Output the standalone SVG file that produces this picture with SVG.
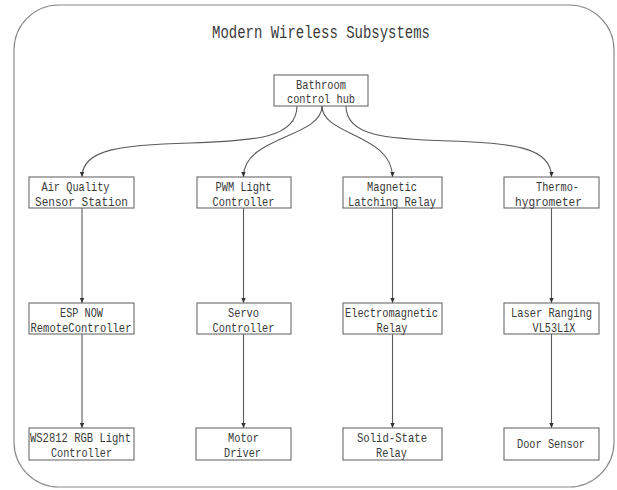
<svg xmlns="http://www.w3.org/2000/svg" width="617" height="490" viewBox="0 0 617 490">
  <style>
    .frame { fill: #ffffff; stroke: #8a8a8a; stroke-width: 1.2; }
    .box { fill: #ffffff; stroke: #6a6a6a; stroke-width: 1.1; }
    .lbl { font-family: "Liberation Mono", "DejaVu Sans Mono", monospace; font-size: 13px; fill: #3a3a3a; text-anchor: middle; }
    .title { font-family: "Liberation Mono", "DejaVu Sans Mono", monospace; font-size: 18px; fill: #3a3a3a; text-anchor: middle; }
    .edge { fill: none; stroke: #5a5a5a; stroke-width: 1.1; marker-end: url(#arrow); }
  </style>
  <defs>
    <marker id="arrow" markerUnits="userSpaceOnUse" markerWidth="6" markerHeight="5" refX="5" refY="2.2" orient="auto">
      <path d="M0,0 L5,2.2 L0,4.4 z" fill="#333333"/>
    </marker>
  </defs>

  <rect class="frame" x="14" y="5" width="600" height="482" rx="45" ry="45"/>
  <text class="title" x="321" y="38" textLength="218" lengthAdjust="spacingAndGlyphs">Modern Wireless Subsystems</text>

  <g id="connectors">
    <path class="edge" d="M297,106 C297,138 255,141 190,143 C125,145 82,148 82,177"/>
    <path class="edge" d="M322,106 C322,138 243,136 243.5,177"/>
    <path class="edge" d="M322,106 C322,136 392.5,134 392.5,177"/>
    <path class="edge" d="M346,106 C346,136 385,139 450,141 C515,143 551.5,148 551.5,177"/>
    <path class="edge" d="M82,208 L82,303"/>
    <path class="edge" d="M243.5,208 L243.5,303"/>
    <path class="edge" d="M392.5,208 L392.5,303"/>
    <path class="edge" d="M551.5,208 L551.5,303"/>
    <path class="edge" d="M82,334 L82,428"/>
    <path class="edge" d="M243.5,334 L243.5,428"/>
    <path class="edge" d="M392.5,334 L392.5,428"/>
    <path class="edge" d="M551.5,334 L551.5,428"/>
  </g>

  <g id="hub">
    <rect class="box" x="274" y="75" width="94" height="31"/>
    <text class="lbl" x="321" y="88.5" textLength="50" lengthAdjust="spacingAndGlyphs">Bathroom</text>
    <text class="lbl" x="321" y="103" textLength="68" lengthAdjust="spacingAndGlyphs">control hub</text>
  </g>

  <g id="air-quality">
    <rect class="box" x="29" y="177" width="105" height="31"/>
    <text class="lbl" x="75.5" y="191" textLength="68" lengthAdjust="spacingAndGlyphs">Air Quality</text>
    <text class="lbl" x="81.5" y="206" textLength="93" lengthAdjust="spacingAndGlyphs">Sensor  Station</text>
  </g>
  <g id="pwm-light">
    <rect class="box" x="197" y="177" width="94" height="31"/>
    <text class="lbl" x="243.5" y="191" textLength="56" lengthAdjust="spacingAndGlyphs">PWM Light</text>
    <text class="lbl" x="243.5" y="206" textLength="62" lengthAdjust="spacingAndGlyphs">Controller</text>
  </g>
  <g id="magnetic-relay">
    <rect class="box" x="343" y="177" width="99" height="31"/>
    <text class="lbl" x="392" y="191" textLength="50" lengthAdjust="spacingAndGlyphs">Magnetic</text>
    <text class="lbl" x="392" y="206" textLength="88" lengthAdjust="spacingAndGlyphs">Latching Relay</text>
  </g>
  <g id="thermo">
    <rect class="box" x="504" y="177" width="95" height="31"/>
    <text class="lbl" x="557.5" y="191" textLength="43" lengthAdjust="spacingAndGlyphs">Thermo-</text>
    <text class="lbl" x="548.5" y="206" textLength="67" lengthAdjust="spacingAndGlyphs">hygrometer</text>
  </g>

  <g id="esp-now">
    <rect class="box" x="29" y="303" width="105" height="31"/>
    <text class="lbl" x="81.5" y="317" textLength="43" lengthAdjust="spacingAndGlyphs">ESP NOW</text>
    <text class="lbl" x="81" y="332" textLength="101" lengthAdjust="spacingAndGlyphs">RemoteController</text>
  </g>
  <g id="servo">
    <rect class="box" x="197" y="303" width="94" height="31"/>
    <text class="lbl" x="243.5" y="317" textLength="31" lengthAdjust="spacingAndGlyphs">Servo</text>
    <text class="lbl" x="243.5" y="332" textLength="62" lengthAdjust="spacingAndGlyphs">Controller</text>
  </g>
  <g id="electromagnetic">
    <rect class="box" x="343" y="303" width="99" height="31"/>
    <text class="lbl" x="391.5" y="317" textLength="93" lengthAdjust="spacingAndGlyphs">Electromagnetic</text>
    <text class="lbl" x="392" y="332" textLength="31" lengthAdjust="spacingAndGlyphs">Relay</text>
  </g>
  <g id="laser">
    <rect class="box" x="504" y="303" width="95" height="31"/>
    <text class="lbl" x="551.5" y="317" textLength="81" lengthAdjust="spacingAndGlyphs">Laser Ranging</text>
    <text class="lbl" x="554" y="332" textLength="43" lengthAdjust="spacingAndGlyphs">VL53L1X</text>
  </g>

  <g id="ws2812">
    <rect class="box" x="29" y="428" width="105" height="32"/>
    <text class="lbl" x="80.5" y="442" textLength="101" lengthAdjust="spacingAndGlyphs">WS2812 RGB Light</text>
    <text class="lbl" x="81.5" y="457" textLength="61" lengthAdjust="spacingAndGlyphs">Controller</text>
  </g>
  <g id="motor">
    <rect class="box" x="196" y="428" width="95" height="32"/>
    <text class="lbl" x="243.5" y="442" textLength="31" lengthAdjust="spacingAndGlyphs">Motor</text>
    <text class="lbl" x="242.5" y="457" textLength="37" lengthAdjust="spacingAndGlyphs">Driver</text>
  </g>
  <g id="solid-state">
    <rect class="box" x="343" y="428" width="99" height="32"/>
    <text class="lbl" x="392" y="442" textLength="70" lengthAdjust="spacingAndGlyphs">Solid-State</text>
    <text class="lbl" x="391.5" y="457" textLength="31" lengthAdjust="spacingAndGlyphs">Relay</text>
  </g>
  <g id="door-sensor">
    <rect class="box" x="504" y="428" width="95" height="32"/>
    <text class="lbl" x="551" y="448" textLength="68" lengthAdjust="spacingAndGlyphs">Door Sensor</text>
  </g>
</svg>
